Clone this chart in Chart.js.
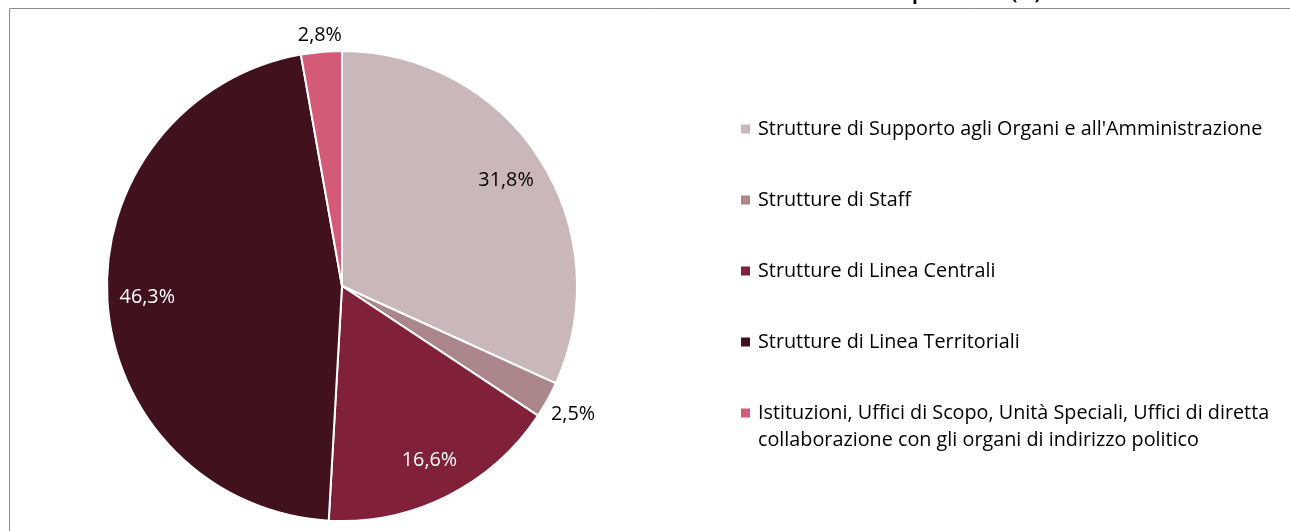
<!DOCTYPE html>
<html>
<head>
<meta charset="utf-8">
<script src="https://cdn.jsdelivr.net/npm/chart.js@4"></script>
<style>
  html, body { margin: 0; padding: 0; background: #ffffff; overflow: hidden; }
  #wrap { width: 1290px; height: 531px; }
</style>
</head>
<body>
<div id="wrap"><canvas id="c" width="1290" height="531"></canvas></div>
<script>
const categories = [
  "Strutture di Supporto agli Organi e all'Amministrazione",
  "Strutture di Staff",
  "Strutture di Linea Centrali",
  "Strutture di Linea Territoriali",
  "Istituzioni, Uffici di Scopo, Unità Speciali, Uffici di diretta collaborazione con gli organi di indirizzo politico"
];
const values = [31.8, 2.5, 16.6, 46.3, 2.8];
const colors = ["#C9B7B9", "#AB868A", "#802039", "#42111E", "#D45B78"];
const titleText = "Distribuzione del personale (%)";

const FONT_FAMILY = "'Open Sans', sans-serif";
// size the font so the longest legend entry spans the same width as the reference (~504px)
const measureCtx = document.createElement('canvas').getContext('2d');
measureCtx.font = "100px " + FONT_FAMILY;
const FONT_SIZE = Math.round(504 / measureCtx.measureText(categories[0]).width * 100 * 10) / 10;
const font = FONT_SIZE + "px " + FONT_FAMILY;

function fmt(v) { return v.toFixed(1).replace('.', ',') + '%'; }

function isDark(hex) {
  const r = parseInt(hex.slice(1, 3), 16), g = parseInt(hex.slice(3, 5), 16), b = parseInt(hex.slice(5, 7), 16);
  return (0.299 * r + 0.587 * g + 0.114 * b) < 110;
}

function wrapText(ctx, text, maxWidth) {
  const words = text.split(' ');
  const lines = [];
  let line = '';
  for (const w of words) {
    const test = line ? line + ' ' + w : w;
    if (ctx.measureText(test).width > maxWidth && line) {
      lines.push(line);
      line = w;
    } else {
      line = test;
    }
  }
  if (line) lines.push(line);
  return lines;
}

const framePlugin = {
  id: 'frame',
  beforeDraw(chart) {
    const ctx = chart.ctx;
    ctx.save();
    ctx.fillStyle = '#ffffff';
    ctx.fillRect(0, 0, chart.width, chart.height);
    ctx.strokeStyle = '#8c8c8c';
    ctx.lineWidth = 1;
    ctx.beginPath();
    ctx.moveTo(9.5, chart.height + 5);
    ctx.lineTo(9.5, 8.5);
    ctx.lineTo(chart.width + 5, 8.5);
    ctx.stroke();
    ctx.font = "bold 19px " + FONT_FAMILY;
    ctx.fillStyle = '#000000';
    ctx.textAlign = 'right';
    ctx.textBaseline = 'alphabetic';
    ctx.fillText(titleText, 1041, -1);
    ctx.restore();
  }
};

const labelPlugin = {
  id: 'pctLabels',
  afterDatasetsDraw(chart) {
    const ctx = chart.ctx;
    const meta = chart.getDatasetMeta(0);
    ctx.save();
    ctx.font = font;
    ctx.textAlign = 'center';
    ctx.textBaseline = 'middle';
    meta.data.forEach((arc, i) => {
      const p = arc.getProps(['x', 'y', 'startAngle', 'endAngle', 'outerRadius'], true);
      const mid = (p.startAngle + p.endAngle) / 2;
      const cos = Math.cos(mid), sin = Math.sin(mid);
      const txt = fmt(values[i]);
      let d;
      if (values[i] >= 5) {
        d = p.outerRadius * 0.83;
        ctx.fillStyle = isDark(colors[i]) ? '#ffffff' : '#000000';
      } else {
        const w = ctx.measureText(txt).width;
        const h = FONT_SIZE;
        d = p.outerRadius + 5 + Math.abs(cos) * w / 2 + Math.abs(sin) * h / 2;
        ctx.fillStyle = '#000000';
      }
      ctx.fillText(txt, p.x + cos * d, p.y + sin * d);
    });
    ctx.restore();
  }
};

const legendPlugin = {
  id: 'sideLegend',
  afterDraw(chart) {
    const ctx = chart.ctx;
    ctx.save();
    ctx.font = font;
    ctx.textAlign = 'left';
    ctx.textBaseline = 'middle';
    const boxX = 741, textX = 758, startY = 129, step = 71, lineH = 27;
    categories.forEach((cat, i) => {
      const y = startY + i * step;
      ctx.fillStyle = colors[i];
      ctx.fillRect(boxX, y - 4.5, 9, 9);
      ctx.fillStyle = '#000000';
      const lines = wrapText(ctx, cat, 524);
      lines.forEach((ln, j) => ctx.fillText(ln, textX, y + j * lineH));
    });
    ctx.restore();
  }
};

new Chart(document.getElementById('c'), {
  type: 'pie',
  data: {
    labels: categories,
    datasets: [{
      data: values,
      backgroundColor: colors,
      borderColor: '#ffffff',
      borderWidth: 2
    }]
  },
  options: {
    responsive: false,
    animation: false,
    events: [],
    layout: { padding: { left: 106, top: 49, right: 712, bottom: 8 } },
    plugins: {
      legend: { display: false },
      title: { display: false },
      tooltip: { enabled: false }
    }
  },
  plugins: [framePlugin, labelPlugin, legendPlugin]
});
</script>
</body>
</html>
